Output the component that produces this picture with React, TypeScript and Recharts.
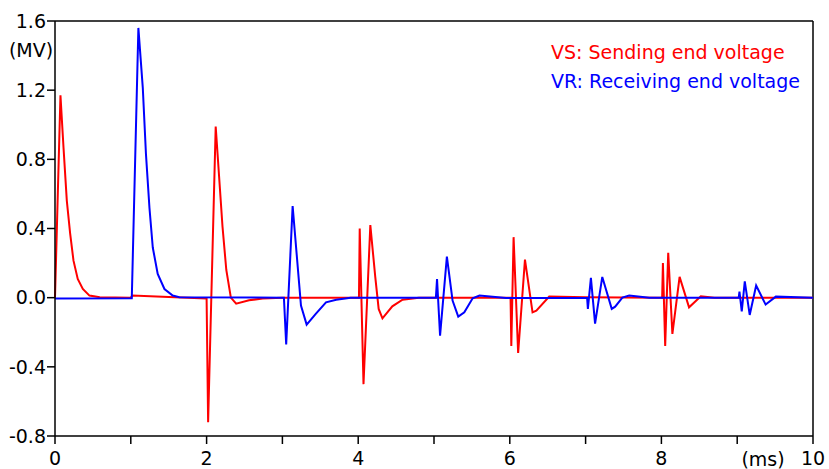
import { LineChart, Line, XAxis, YAxis, ReferenceLine, Legend } from "recharts";

// VS: sending end voltage (red)
const vsTime = [
  0, 0.072, 0.112, 0.156, 0.2, 0.244, 0.3, 0.367, 0.455, 0.59, 1.0, 1.02, 1.5, 2.0,
  2.02, 2.12, 2.21, 2.26, 2.32, 2.39, 2.56, 2.74, 3.0, 4.01,
  4.02, 4.07, 4.16, 4.225, 4.27, 4.32, 4.45, 4.585, 4.8, 6.01,
  6.02, 6.05, 6.11, 6.2, 6.3, 6.35, 6.52, 7.0, 8.01,
  8.02, 8.05, 8.09, 8.145, 8.24, 8.365, 8.52, 8.7, 10,
];
const vsValue = [
  0, 1.17, 0.87, 0.56, 0.37, 0.214, 0.108, 0.05, 0.012, 0.002, 0, 0.012, 0.004, -0.005,
  -0.72, 0.99, 0.41, 0.16, 0, -0.035, -0.015, -0.005, 0, 0,
  0.4, -0.5, 0.42, 0.12, -0.065, -0.12, -0.05, -0.012, 0, 0,
  -0.28, 0.35, -0.32, 0.22, -0.085, -0.075, 0.006, 0.002, 0,
  0.2, -0.28, 0.26, -0.21, 0.12, -0.056, 0.008, 0, 0,
];

// VR: receiving end voltage (blue)
const vrTime = [
  0, 1.013, 1.1, 1.158, 1.2, 1.246, 1.29, 1.355, 1.444, 1.553, 1.64, 3.02,
  3.05, 3.135, 3.245, 3.32, 3.44, 3.575, 3.71, 3.9, 5.025,
  5.04, 5.08, 5.17, 5.245, 5.32, 5.4, 5.51, 5.6, 5.95, 7.02,
  7.03, 7.07, 7.125, 7.22, 7.345, 7.39, 7.485, 7.575, 7.84, 9.02,
  9.03, 9.06, 9.1, 9.165, 9.25, 9.375, 9.51, 10,
];
const vrValue = [
  -0.005, -0.003, 1.56, 1.215, 0.83, 0.52, 0.29, 0.137, 0.05, 0.012, 0.002, 0,
  -0.27, 0.53, -0.046, -0.156, -0.094, -0.027, -0.012, 0, 0,
  0.108, -0.22, 0.237, -0.017, -0.11, -0.085, -0.004, 0.012, -0.002, 0,
  -0.065, 0.114, -0.15, 0.12, -0.065, -0.052, 0, 0.012, 0, 0,
  0.035, -0.08, 0.094, -0.1, 0.07, -0.04, 0.006, 0,
];

const xTicks = [0, 1, 2, 3, 4, 5, 6, 7, 8, 9, 10];
const yTicks = [-0.8, -0.4, 0, 0.4, 0.8, 1.2, 1.6];

const vsData = vsTime.map((t, i) => ({ t, v: vsValue[i] }));
const vrData = vrTime.map((t, i) => ({ t, v: vrValue[i] }));

const FONT = "'DejaVu Sans', Verdana, sans-serif";
const tickStyle = { fill: "#000", fontSize: 19, fontFamily: FONT };

const legendContent = () => (
  <div style={{ fontFamily: FONT, fontSize: 19, lineHeight: "29px", whiteSpace: "nowrap" }}>
    <div style={{ color: "#ff0000" }}>VS: Sending end voltage</div>
    <div style={{ color: "#0000ff" }}>VR: Receiving end voltage</div>
  </div>
);

export default function App() {
  return (
    <div style={{ position: "absolute", left: 0, top: 0, background: "#fff" }}>
      <LineChart width={829} height={469} margin={{ top: 21, right: 16, bottom: 0, left: 0 }}>
        <XAxis
          dataKey="t"
          type="number"
          domain={[0, 10]}
          ticks={xTicks}
          interval={0}
          tickFormatter={(v) => (v % 2 === 0 ? String(v) : "")}
          height={33}
          tick={tickStyle}
          tickSize={8}
          tickMargin={8}
          axisLine={{ stroke: "#000", strokeWidth: 1.5 }}
          tickLine={{ stroke: "#000", strokeWidth: 1.5 }}
          label={{
            content: (p: any) => {
              const vb = p.viewBox || { x: 55, y: 436, width: 758 };
              return (
                <text x={vb.x + vb.width - 50} y={vb.y + 29.5} textAnchor="middle" style={tickStyle}>
                  (ms)
                </text>
              );
            },
          }}
        />
        <YAxis
          type="number"
          domain={[-0.8, 1.6]}
          ticks={yTicks}
          interval={0}
          tickFormatter={(v) => v.toFixed(1)}
          width={55}
          tick={tickStyle}
          tickSize={8}
          tickMargin={1}
          axisLine={{ stroke: "#000", strokeWidth: 1.5 }}
          tickLine={{ stroke: "#000", strokeWidth: 1.5 }}
          label={{
            content: (p: any) => {
              const vb = p.viewBox || { x: 0, y: 21 };
              return (
                <text x={vb.x + 31} y={vb.y + 36} textAnchor="middle" style={tickStyle}>
                  (MV)
                </text>
              );
            },
          }}
        />
        <ReferenceLine y={1.6} stroke="#000" strokeWidth={1.5} />
        <ReferenceLine x={10} stroke="#000" strokeWidth={1.5} />
        <Legend
          layout="vertical"
          align="center"
          verticalAlign="middle"
          content={legendContent}
          wrapperStyle={{ left: 551, top: 38, width: "auto" }}
        />
        <Line
          data={vsData}
          dataKey="v"
          type="linear"
          stroke="#ff0000"
          strokeWidth={2}
          dot={false}
          activeDot={false}
          isAnimationActive={false}
        />
        <Line
          data={vrData}
          dataKey="v"
          type="linear"
          stroke="#0000ff"
          strokeWidth={2}
          dot={false}
          activeDot={false}
          isAnimationActive={false}
        />
      </LineChart>
    </div>
  );
}
